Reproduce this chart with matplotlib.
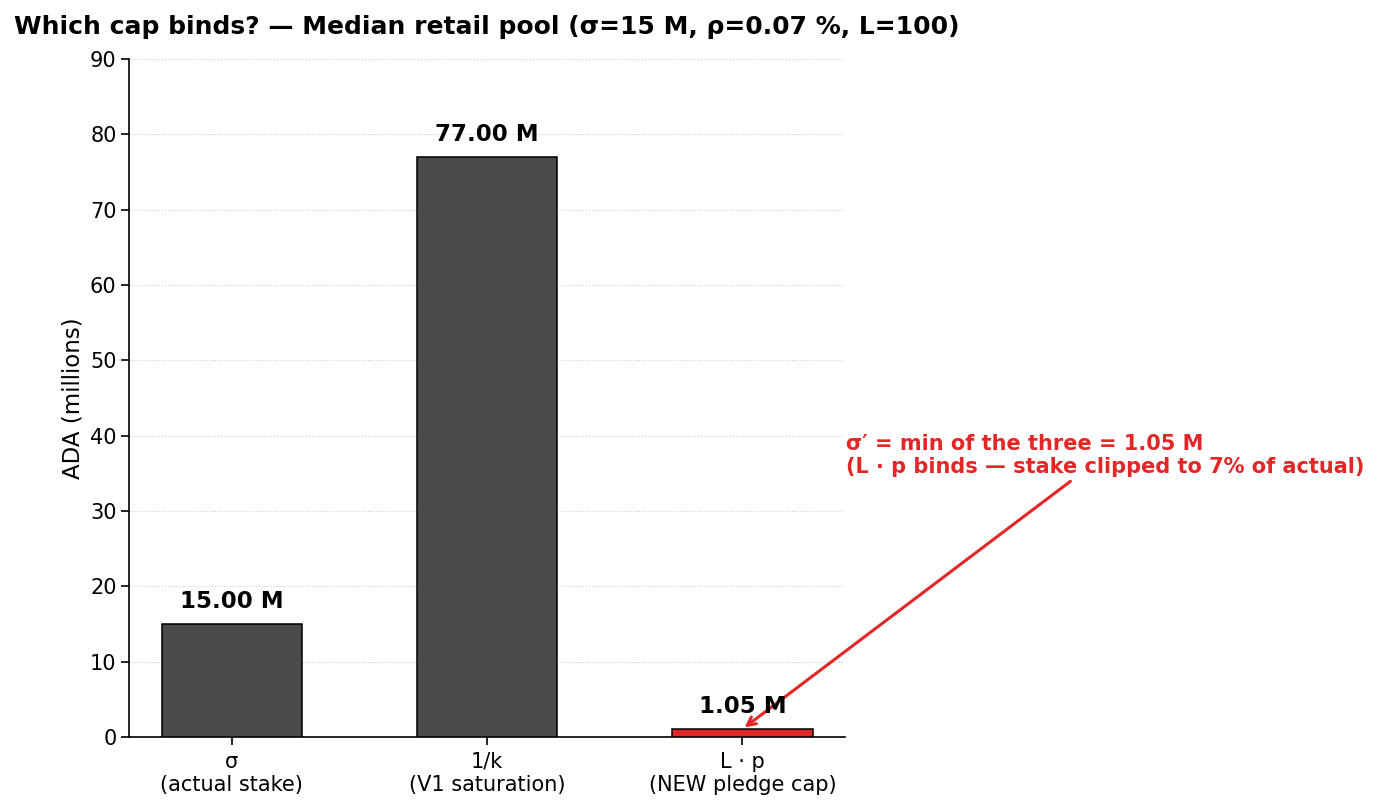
import matplotlib
matplotlib.use("Agg")
import matplotlib.pyplot as plt

# values in millions of ADA
caps = ["σ\n(actual stake)", "1/k\n(V1 saturation)", "L · p\n(NEW pledge cap)"]
values = [15.00, 77.00, 1.05]
bar_colors = ["#4a4a4a", "#4a4a4a", "#e32626"]

fig = plt.figure(figsize=(13.77, 8.10), dpi=100)
ax = fig.add_axes([0.0937, 0.0901, 0.52, 0.837])

x = list(range(len(caps)))
ax.bar(x, values, width=0.55, color=bar_colors, edgecolor="black", linewidth=1.1, zorder=3)

for xi, v in zip(x, values):
    ax.text(xi, v + 1.45, f"{v:.2f} M", ha="center", va="bottom",
            fontsize=16.5, fontweight="bold", zorder=4)

ax.set_xticks(x)
ax.set_xticklabels(caps, fontsize=15)
ax.set_ylim(0, 90)
ax.set_yticks(range(0, 91, 10))
ax.tick_params(axis="y", labelsize=15)
ax.tick_params(length=5.5, width=1.2)
ax.tick_params(axis="x", pad=5)
ax.set_ylabel("ADA (millions)", fontsize=16.5)
ax.set_title("Which cap binds? — Median retail pool (σ=15 M, ρ=0.07 %, L=100)",
             fontsize=18, fontweight="bold", pad=18)

ax.grid(axis="y", linestyle=":", color="#c8c8c8", alpha=0.9, zorder=0)
ax.spines["top"].set_visible(False)
ax.spines["right"].set_visible(False)
ax.spines["left"].set_linewidth(1.2)
ax.spines["bottom"].set_linewidth(1.2)

ax.annotate("σ′ = min of the three = 1.05 M\n(L · p binds — stake clipped to 7% of actual)",
            xy=(2, values[2]), xytext=(2.405, 37.4), textcoords="data",
            ha="left", va="center", fontsize=15, fontweight="bold", color="#e32626",
            arrowprops=dict(arrowstyle="->", color="#e32626", lw=2.2),
            annotation_clip=False)

fig.savefig("out.png", dpi=100)
